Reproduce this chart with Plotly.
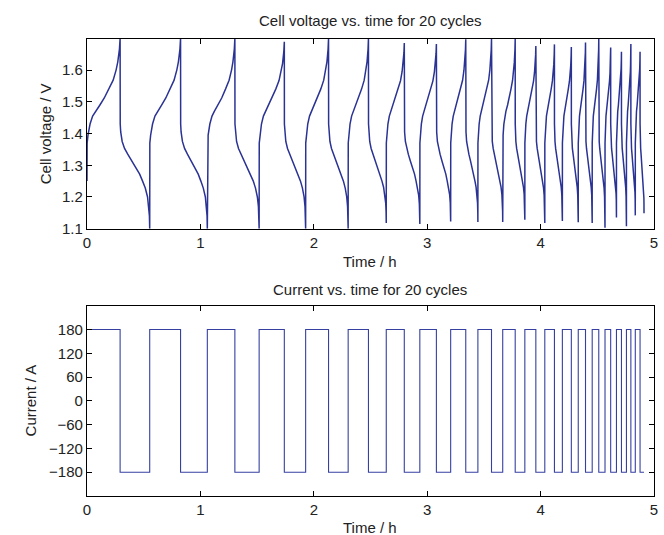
import plotly.graph_objects as go

# ---------------- data ----------------
# switching times (h): end of each half-cycle (charge, discharge, charge, ...)
switch_times = [0.292, 0.553, 0.825, 1.061, 1.304, 1.518, 1.740, 1.928, 2.130, 2.303,
                2.482, 2.639, 2.798, 2.935, 3.081, 3.207, 3.340, 3.447, 3.567, 3.666,
                3.776, 3.861, 3.958, 4.037, 4.122, 4.192, 4.271, 4.332, 4.396, 4.455,
                4.513, 4.568, 4.618, 4.669, 4.713, 4.757, 4.796, 4.835, 4.877, 4.912]
# voltage reached at the end of each half-cycle (V): peaks after charge, troughs after discharge
end_voltages = [1.700, 1.100, 1.700, 1.100, 1.700, 1.100, 1.689, 1.100, 1.700, 1.100,
                1.700, 1.118, 1.685, 1.115, 1.682, 1.123, 1.697, 1.121, 1.698, 1.121,
                1.698, 1.128, 1.676, 1.118, 1.681, 1.124, 1.673, 1.120, 1.687, 1.118,
                1.698, 1.103, 1.671, 1.135, 1.658, 1.108, 1.682, 1.142, 1.658, 1.149]
start_voltage = 1.25
current_levels = [180, -180]  # A, charge / discharge

# shape of one charge and one discharge (fraction of half-cycle, voltage), read from cycles 1-2
charge_frac = [0.0, 0.004, 0.03, 0.092, 0.17, 0.254, 0.39, 0.522, 0.66, 0.79, 0.88, 0.93, 0.98, 1.0]
charge_volt = [None, 1.37, 1.395, 1.43, 1.455, 1.47, 1.49, 1.512, 1.54, 1.568, 1.60, 1.625, 1.665, None]
discharge_frac = [0.0, 0.004, 0.02, 0.07, 0.15, 0.257, 0.40, 0.536, 0.66, 0.759, 0.85, 0.927, 0.97, 0.99, 1.0]
discharge_volt = [None, 1.43, 1.405, 1.375, 1.353, 1.335, 1.312, 1.292, 1.272, 1.25, 1.228, 1.20, 1.17, 1.14, None]

# ---------------- build traces ----------------
t_v, v_v = [], []
t_i, i_i = [], []
t_prev, v_prev = 0.0, start_voltage
for k, (t_end, v_end) in enumerate(zip(switch_times, end_voltages)):
    dur = t_end - t_prev
    charging = (k % 2 == 0)
    fr, vv = (charge_frac, charge_volt) if charging else (discharge_frac, discharge_volt)
    for f, v in zip(fr, vv):
        if v is None:
            v = v_prev if f == 0 else v_end
        elif charging and v > 1.55:
            v = 1.55 + (v - 1.55) * (v_end - 1.55) / (1.698 - 1.55)
        elif (not charging) and v < 1.25:
            v = 1.25 - (1.25 - v) * (1.25 - v_end) / (1.25 - 1.10)
        t_v.append(t_prev + f * dur)
        v_v.append(v)
    cur = current_levels[0] if charging else current_levels[1]
    t_i += [t_prev, t_end]
    i_i += [cur, cur]
    t_prev, v_prev = t_end, v_end

fig = go.Figure()
fig.add_trace(go.Scatter(x=t_v, y=v_v, mode="lines", xaxis="x", yaxis="y",
                         line=dict(color="#2a3394", width=1.5),
                         showlegend=False, hoverinfo="skip"))
fig.add_trace(go.Scatter(x=t_i, y=i_i, mode="lines", xaxis="x2", yaxis="y2",
                         line=dict(color="#3540a0", width=1.1),
                         showlegend=False, hoverinfo="skip"))

font_family = "Liberation Sans, Arial, sans-serif"
ax_common = dict(showline=True, linecolor="black", linewidth=1.3, mirror="ticks",
                 ticks="inside", ticklen=5, tickcolor="black", tickwidth=1,
                 showgrid=False, zeroline=False,
                 tickfont=dict(family=font_family, size=15, color="#222"))

H = 535
top_y0, top_y1 = 228.7, 39.0
bot_y0, bot_y1 = 496.0, 305.7
mt, mb = 39.0, 39.0
ph = H - mt - mb

def frac(ypx):
    return (H - mb - ypx) / ph

fig.update_layout(
    width=664, height=535,
    margin=dict(l=87, r=6, t=mt, b=mb),
    paper_bgcolor="white", plot_bgcolor="white",
    xaxis=dict(range=[0, 5], domain=[0, 1], anchor="y", dtick=1, **ax_common),
    yaxis=dict(range=[1.1, 1.698], domain=[frac(top_y0), frac(top_y1)], anchor="x",
               tickvals=[1.1, 1.2, 1.3, 1.4, 1.5, 1.6],
               ticktext=["1.1", "1.2", "1.3", "1.4", "1.5", "1.6"], **ax_common),
    xaxis2=dict(range=[0, 5], domain=[0, 1], anchor="y2", dtick=1, **ax_common),
    yaxis2=dict(range=[-240, 240], domain=[frac(bot_y0), frac(bot_y1)], anchor="x2",
                tickvals=[-180, -120, -60, 0, 60, 120, 180],
                ticktext=["\u2212180", "\u2212120", "\u221260", "0", "60", "120", "180"],
                **ax_common),
)

def ann(text, x, y, angle=0, size=15):
    fig.add_annotation(text=text, xref="paper", yref="paper",
                       x=x, y=y, showarrow=False, textangle=angle,
                       xanchor="center", yanchor="middle",
                       font=dict(family=font_family, size=size, color="#222"))

def px_x(xp):
    return (xp - 87) / (664 - 87 - 6)

ann("Cell voltage vs. time for 20 cycles", px_x(372), frac(21))
ann("Time / h", px_x(372), frac(261))
ann("Cell voltage / V", px_x(45), frac(134), angle=-90)
ann("Current vs. time for 20 cycles", px_x(372), frac(289))
ann("Time / h", px_x(372), frac(527))
ann("Current / A", px_x(30), frac(400), angle=-90)

fig.write_html("out.html")
